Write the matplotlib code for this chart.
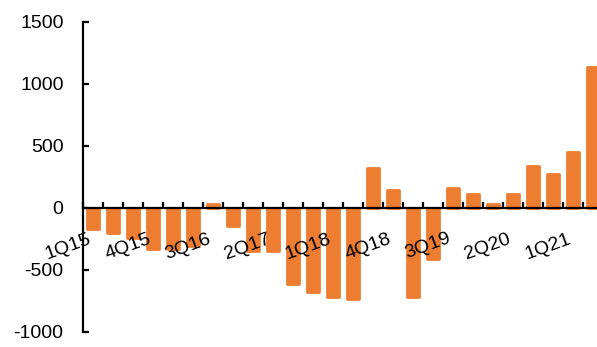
import numpy as np
import matplotlib.pyplot as plt

plt.rcParams['font.family'] = ['Liberation Sans', 'DejaVu Sans']

quarters = ['1Q15', '2Q15', '3Q15', '4Q15', '1Q16', '2Q16', '3Q16', '4Q16',
            '1Q17', '2Q17', '3Q17', '4Q17', '1Q18', '2Q18', '3Q18', '4Q18',
            '1Q19', '2Q19', '3Q19', '4Q19', '1Q20', '2Q20', '3Q20', '4Q20',
            '1Q21', '2Q21']
values = [-170, -205, -240, -330, -330, -310, 30, -145,
          -345, -345, -615, -680, -715, -730, 320, 145,
          -715, -410, 160, 115, 30, 115, 335, 275,
          450, 1140]
yticks = [-1000, -500, 0, 500, 1000, 1500]
label_every = 3

bar_color = '#ED7D31'

fig = plt.figure(figsize=(5.97, 3.47), dpi=100)
ax = fig.add_axes([83 / 597, 15 / 347, 520 / 597, 310 / 347])

x = np.arange(len(quarters))
ax.bar(x, values, width=0.6, color=bar_color, edgecolor=bar_color,
       linewidth=2, joinstyle='round', zorder=1)

ax.set_xlim(-0.5, len(quarters) - 0.5)
ax.set_ylim(-1000, 1500)

for side in ['top', 'right']:
    ax.spines[side].set_visible(False)
ax.spines['bottom'].set_position(('data', 0))
ax.spines['bottom'].set_linewidth(1.6)
ax.spines['left'].set_linewidth(1.6)

ax.set_yticks(yticks)
ax.set_yticklabels([str(v) for v in yticks])
ax.tick_params(axis='y', direction='in', length=4, width=1.6,
               labelsize=14, pad=14)

# boundary ticks between bars, labels every third quarter
ax.set_xticks(np.arange(len(quarters) + 1) - 0.5)
ax.set_xticklabels([])
ax.tick_params(axis='x', which='major', direction='in', length=4, width=1.6)
ax.set_xticks(x[::label_every], minor=True)
ax.set_xticklabels(quarters[::label_every], minor=True, rotation=20,
                   ha='right', va='top', fontsize=14)
ax.tick_params(axis='x', which='minor', length=0, pad=16)

fig.savefig('out.png', dpi=100)
